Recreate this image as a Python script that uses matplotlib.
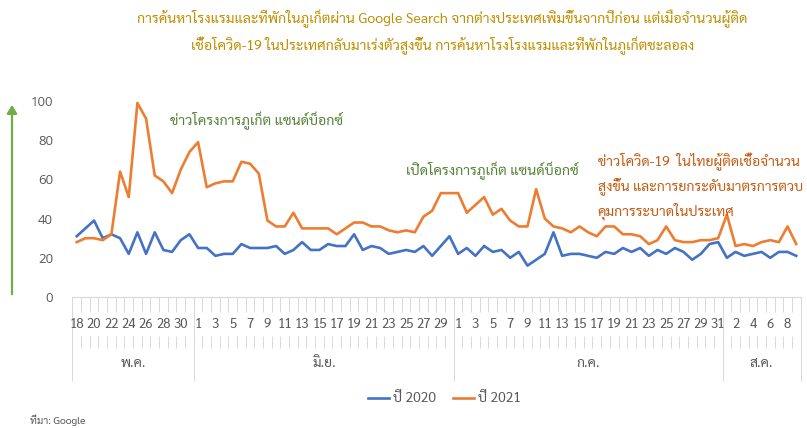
import matplotlib
matplotlib.use('Agg')
import matplotlib.pyplot as plt

THAI = ['Sarabun', 'DejaVu Sans']

# ค่าดัชนีการค้นหา 18 พ.ค. - 9 ส.ค.
may_days = list(range(18, 32))
jun_days = list(range(1, 31))
jul_days = list(range(1, 32))
aug_days = list(range(1, 10))

search_2020 = [31, 35, 39, 30, 32, 30, 22, 33, 22, 33, 24, 23, 29, 32,
               25, 25, 21, 22, 22, 27, 25, 25, 25, 26, 22, 24, 28, 24, 24,
               27, 26, 26, 32, 24, 26, 25, 22, 23, 24, 23, 26, 21, 26, 31,
               22, 25, 21, 26, 23, 24, 20, 23, 16, 19, 22, 33, 21, 22, 22,
               21, 20, 23, 22, 25, 23, 25, 21, 24, 22, 25, 23, 19, 22, 27, 28,
               20, 23, 21, 22, 23, 20, 23, 23, 21]
search_2021 = [28, 30, 30, 29, 32, 64, 51, 99, 91, 62, 59, 53, 65, 74,
               79, 56, 58, 59, 59, 69, 68, 63, 39, 36, 36, 43, 35, 35, 35,
               35, 32, 35, 38, 38, 36, 36, 34, 33, 34, 33, 41, 44, 53, 53,
               53, 43, 47, 51, 42, 45, 39, 36, 36, 55, 40, 36, 35, 33, 36,
               33, 31, 36, 36, 32, 32, 31, 27, 29, 36, 29, 28, 28, 29, 29, 30,
               42, 26, 27, 26, 28, 29, 28, 36, 27]

months = ['พ.ค.', 'มิ.ย.', 'ก.ค.', 'ส.ค.']
month_days = [may_days, jun_days, jul_days, aug_days]
yticks = [0, 20, 40, 60, 80, 100]

title_lines = ['การค้นหาโรงแรมและที่พักในภูเก็ตผ่าน Google Search จากต่างประเทศเพิ่มขึ้นจากปีก่อน แต่เมื่อจำนวนผู้ติด',
               'เชื้อโควิด-19 ในประเทศกลับมาเร่งตัวสูงขึ้น การค้นหาโรงโรงแรมและที่พักในภูเก็ตชะลอลง']
note_1 = 'ข่าวโครงการภูเก็ต แซนด์บ็อกซ์'
note_2 = 'เปิดโครงการภูเก็ต แซนด์บ็อกซ์'
note_3 = ['ข่าวโควิด-19  ในไทยผู้ติดเชื้อจำนวน', 'สูงขึ้น และการยกระดับมาตรการตวบ', 'คุมการระบาดในประเทศ']

day_labels = [d for days in month_days for d in days]
x = list(range(len(day_labels)))

fig = plt.figure(figsize=(8.07, 4.28), dpi=100)
ax = fig.add_axes([0.0897, 0.3061, 0.9023, 0.4579])

l1, = ax.plot(x, search_2020, color='#4472C4', lw=1.9, label='ปี 2020')
l2, = ax.plot(x, search_2021, color='#ED7D31', lw=1.9, label='ปี 2021')

ax.set_xlim(-0.5, len(x) - 0.5)
ax.set_ylim(0, 100)
ax.set_yticks(yticks)
ax.tick_params(axis='y', length=0, pad=14, labelsize=9.5, labelcolor='#595959')
for lab in ax.get_yticklabels():
    lab.set_family('Open Sans')
ax.set_xticks([])
for s in ['top', 'right', 'left']:
    ax.spines[s].set_visible(False)
ax.spines['bottom'].set_color('#D9D9D9')

# multi-level category axis
tr = ax.get_xaxis_transform()
grey = '#D9D9D9'
for i in x:
    if i % 2 == 0:
        ax.text(i, -0.138, str(day_labels[i]), transform=tr, ha='center', va='center',
                fontsize=9.5, color='#595959', family=THAI)
bounds = [i + 0.5 for i in x[:-1]]
ax.vlines(bounds, 0, -0.075, transform=tr, color=grey, lw=0.7, clip_on=False)
ax.vlines(bounds, -0.2, -0.26, transform=tr, color=grey, lw=0.7, clip_on=False)
start = 0
seps = [-0.5]
for name, days in zip(months, month_days):
    end = start + len(days)
    ax.text((start + end - 1) / 2, -0.34, name, transform=tr, ha='center', va='center',
            fontsize=10, color='#595959', family=THAI)
    seps.append(end - 0.5)
    start = end
ax.vlines(seps, 0, -0.43, transform=tr, color=grey, lw=0.7, clip_on=False)

# annotations
ax.text(10.8, 90, note_1, fontsize=10.2, color='#548235', family=THAI, va='center')
ax.text(38, 64.5, note_2, fontsize=10.2, color='#548235', family=THAI, va='center')
for k, line in enumerate(note_3):
    ax.text(60.1, 68.8 - k * 12.5, line, fontsize=10.1, color='#C55A11', family=THAI, va='center')

for k, line in enumerate(title_lines):
    fig.text(0.548, 0.956 - k * 0.063, line, ha='center', va='center', fontsize=10.2,
             color='#BF8F00', family=THAI)

# green arrow on the left
fig.add_artist(matplotlib.patches.FancyArrowPatch((12 / 807, 1 - 297 / 428), (12 / 807, 1 - 102 / 428),
               transform=fig.transFigure, arrowstyle='-|>,head_length=5,head_width=3',
               color='#70AD47', lw=1.6))

fig.legend(handles=[l1, l2], loc='center', bbox_to_anchor=(0.551, 0.068), ncol=2,
           frameon=False, handlelength=1.5, columnspacing=1.2, handletextpad=0.3,
           prop={'family': THAI, 'size': 10}, labelcolor='#595959')

fig.text(0.037, 0.018, 'ที่มา: Google', fontsize=7.5, color='#595959', family=THAI, va='center')

fig.savefig('out.png')
